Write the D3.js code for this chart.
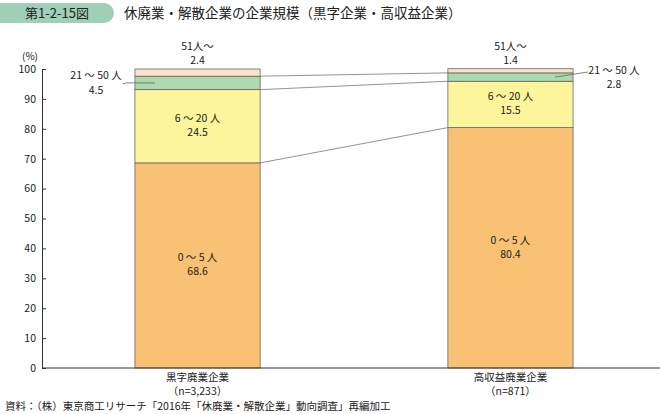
<!DOCTYPE html><html><head><meta charset="utf-8"><script src="https://cdn.jsdelivr.net/npm/d3@7"></script>
<style>body{margin:0;background:#fff}text{font-family:"Noto Sans CJK JP","Noto Sans",sans-serif;fill:#222}</style></head><body>
<script>
const categories=["黒字廃業企業","高収益廃業企業"];
const nLabels=["（n=3,233）","（n=871）"];
const seriesNames=["0 ～ 5 人","6 ～ 20 人","21 ～ 50 人","51人～"];
const v05=[68.6,80.4], v620=[24.5,15.5], v2150=[4.5,2.8], v51=[2.4,1.4];
const yTicks=[0,10,20,30,40,50,60,70,80,90,100];
const colors=["#f8c173","#fdf59c","#acd9ae","#fbe3c9"];
const svg=d3.select("body").append("svg").attr("width",668).attr("height",414);
svg.append("path").attr("d","M0,3 H104 A10,10 0 0 1 114,13 A10,10 0 0 1 104,23 H0 Z").attr("fill","#9fcfb6");
svg.append("text").attr("x",57).attr("y",18).attr("text-anchor","middle").attr("font-size",13).text("第1-2-15図");
svg.append("text").attr("x",124).attr("y",18).attr("font-size",13.5).text("休廃業・解散企業の企業規模（黒字企業・高収益企業）");
const y=d3.scaleLinear().domain([0,100]).range([368,69]);
const x=d3.scaleBand().domain(categories).range([42,666]).paddingInner(0.6).paddingOuter(0.297);
svg.append("text").attr("x",30).attr("y",60).attr("font-size",10).attr("text-anchor","middle").text("(%)");
const ax=svg.append("g").attr("transform","translate(42,0)").call(d3.axisRight(y).tickValues(yTicks).tickSize(4).tickFormat(d3.format("d")));
ax.select(".domain").attr("stroke","#333");ax.selectAll("line").attr("stroke","#333");
ax.selectAll("text").attr("x",-6).attr("text-anchor","end").attr("font-size",10.5).attr("fill","#222");
const data=categories.map((c,i)=>({c,vals:[v05[i],v620[i],v2150[i],v51[i]]}));
const stacks=data.map(d=>{let s=0;return d.vals.map(v=>{const r=[s,s+v];s+=v;return r;});});
[0,1,2].forEach(k=>{svg.append("line").attr("x1",x(categories[0])+x.bandwidth()).attr("x2",x(categories[1]))
 .attr("y1",y(stacks[0][k][1])).attr("y2",y(stacks[1][k][1])).attr("stroke","#777").attr("stroke-width",0.8);});
data.forEach((d,i)=>{stacks[i].forEach((s,k)=>{svg.append("rect").attr("x",x(d.c)).attr("width",x.bandwidth())
 .attr("y",y(s[1])).attr("height",y(s[0])-y(s[1])).attr("fill",colors[k]).attr("stroke","#666").attr("stroke-width",0.8);});
 const cx=x(d.c)+x.bandwidth()/2;
 [0,1].forEach(k=>{const m=y((stacks[i][k][0]+stacks[i][k][1])/2);
  svg.append("text").attr("x",cx).attr("y",m-4).attr("text-anchor","middle").attr("font-size",10.5).text(seriesNames[k]);
  svg.append("text").attr("x",cx).attr("y",m+10).attr("text-anchor","middle").attr("font-size",10.5).text(d.vals[k].toFixed(1));});
 svg.append("text").attr("x",cx).attr("y",50).attr("text-anchor","middle").attr("font-size",10.5).text(seriesNames[3]);
 svg.append("text").attr("x",cx).attr("y",64).attr("text-anchor","middle").attr("font-size",10.5).text(d.vals[3].toFixed(1));
 svg.append("text").attr("x",cx).attr("y",381).attr("text-anchor","middle").attr("font-size",10.5).text(d.c);
 svg.append("text").attr("x",cx).attr("y",395).attr("text-anchor","middle").attr("font-size",10.5).text(nLabels[i]);
});
const m0=y((stacks[0][2][0]+stacks[0][2][1])/2), m1=y((stacks[1][2][0]+stacks[1][2][1])/2);
svg.append("text").attr("x",96).attr("y",79).attr("text-anchor","middle").attr("font-size",10.5).text(seriesNames[2]);
svg.append("text").attr("x",96).attr("y",94).attr("text-anchor","middle").attr("font-size",10.5).text(v2150[0].toFixed(1));
svg.append("polyline").attr("points",`123,${m0+1} 126,${m0} 155,${m0}`).attr("fill","none").attr("stroke","#666").attr("stroke-width",0.8);
svg.append("text").attr("x",614).attr("y",74).attr("text-anchor","middle").attr("font-size",10.5).text(seriesNames[2]);
svg.append("text").attr("x",614).attr("y",88).attr("text-anchor","middle").attr("font-size",10.5).text(v2150[1].toFixed(1));
svg.append("line").attr("x1",555).attr("y1",m1).attr("x2",588).attr("y2",72).attr("stroke","#666").attr("stroke-width",0.8);
svg.append("line").attr("x1",42).attr("x2",660).attr("y1",368).attr("y2",368).attr("stroke","#333");
svg.append("text").attr("x",5).attr("y",410).attr("font-size",10.5).text("資料：（株）東京商工リサーチ「2016年「休廃業・解散企業」動向調査」再編加工");
</script></body></html>
